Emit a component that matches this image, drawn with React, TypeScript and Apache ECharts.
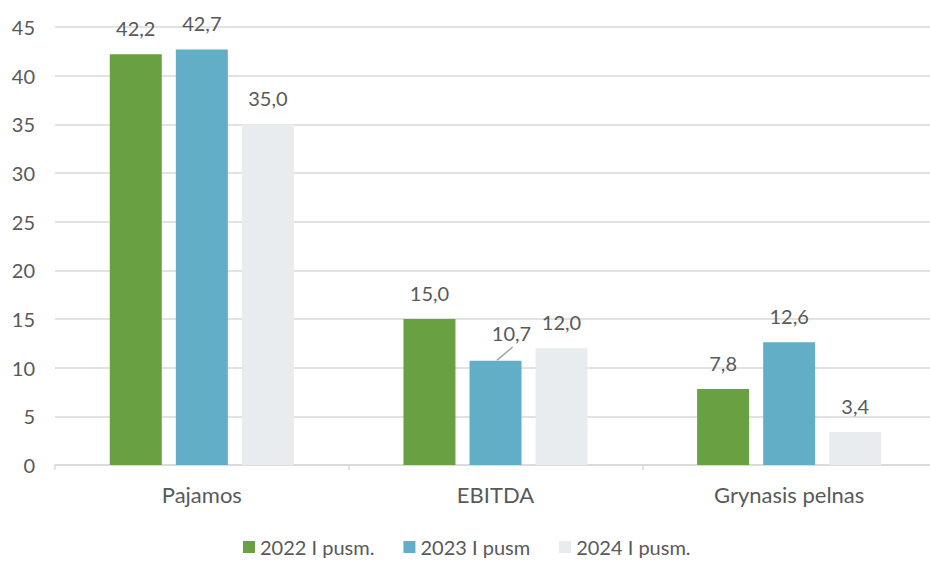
import React, { useEffect, useRef } from "react";
import * as echarts from "echarts";

const categories = ["Pajamos", "EBITDA", "Grynasis pelnas"];
const seriesNames = ["2022 I pusm.", "2023 I pusm", "2024 I pusm."];
const values2022 = [42.2, 15.0, 7.8];
const values2023 = [42.7, 10.7, 12.6];
const values2024 = [35.0, 12.0, 3.4];
const colors = ["#69a142", "#62aec6", "#e8ecee"];

const FONT = "Lato, 'Open Sans', sans-serif";
const TXT = "#595959";

const leaderSvg =
  "data:image/svg+xml;charset=utf-8," +
  encodeURIComponent(
    '<svg xmlns="http://www.w3.org/2000/svg" width="21" height="15"><line x1="5" y1="14.5" x2="21" y2="1" stroke="#a6a6a6" stroke-width="1.6"/></svg>'
  );

const fmt = (v: number) => v.toFixed(1).replace(".", ",");

export default function App() {
  const ref = useRef<HTMLDivElement>(null);
  useEffect(() => {
    if (!ref.current) return;
    const chart = echarts.init(ref.current, null, { renderer: "svg" });
    const all = [values2022, values2023, values2024];
    chart.setOption({
      animation: false,
      textStyle: { fontFamily: FONT },
      grid: { left: 55, top: 27, right: 4, height: 438, containLabel: false },
      legend: {
        top: 532,
        left: 238,
        itemWidth: 12,
        itemHeight: 12,
        itemGap: 29,
        icon: "rect",
        textStyle: { fontSize: 20, color: TXT, fontFamily: FONT },
        data: seriesNames,
      },
      xAxis: {
        type: "category",
        data: categories,
        axisLine: { lineStyle: { color: "#d9d9d9", width: 1.5 } },
        axisTick: { show: true, length: 5, lineStyle: { color: "#d9d9d9", width: 1.5 } },
        axisLabel: { fontSize: 22, color: TXT, margin: 18, fontFamily: FONT },
      },
      yAxis: {
        type: "value",
        min: 0,
        max: 45,
        interval: 5,
        axisLine: { show: false },
        axisTick: { show: false },
        splitLine: { lineStyle: { color: "#d9d9d9", width: 1.5 } },
        axisLabel: { fontSize: 20, color: TXT, margin: 20, fontFamily: FONT },
      },
      series: all.map((vals, i) => ({
        name: seriesNames[i],
        type: "bar",
        barWidth: 52,
        barGap: "27%",
        itemStyle: { color: colors[i] },
        data: vals.map((v, j) => {
          const item: any = { value: v };
          if (i === 1 && j === 1) {
            item.label = {
              distance: 0,
              offset: [16, 0],
              formatter: "{t|" + fmt(v) + "}\n{l|}",
              rich: {
                t: { fontSize: 20, color: TXT, fontFamily: FONT, lineHeight: 26 },
                l: {
                  width: 21,
                  height: 15,
                  lineHeight: 15,
                  align: "left",
                  backgroundColor: { image: leaderSvg },
                },
              },
            };
          }
          return item;
        }),
        label: {
          show: true,
          position: "top",
          distance: 16,
          fontSize: 20,
          color: TXT,
          fontFamily: FONT,
          formatter: (p: any) => fmt(p.value),
        },
      })),
    });
    return () => chart.dispose();
  }, []);
  return (
    <div style={{ position: "absolute", left: 0, top: 0, width: 930, height: 561, overflow: "hidden", background: "#fff" }}>
      <div ref={ref} style={{ width: 940, height: 561 }} />
    </div>
  );
}
